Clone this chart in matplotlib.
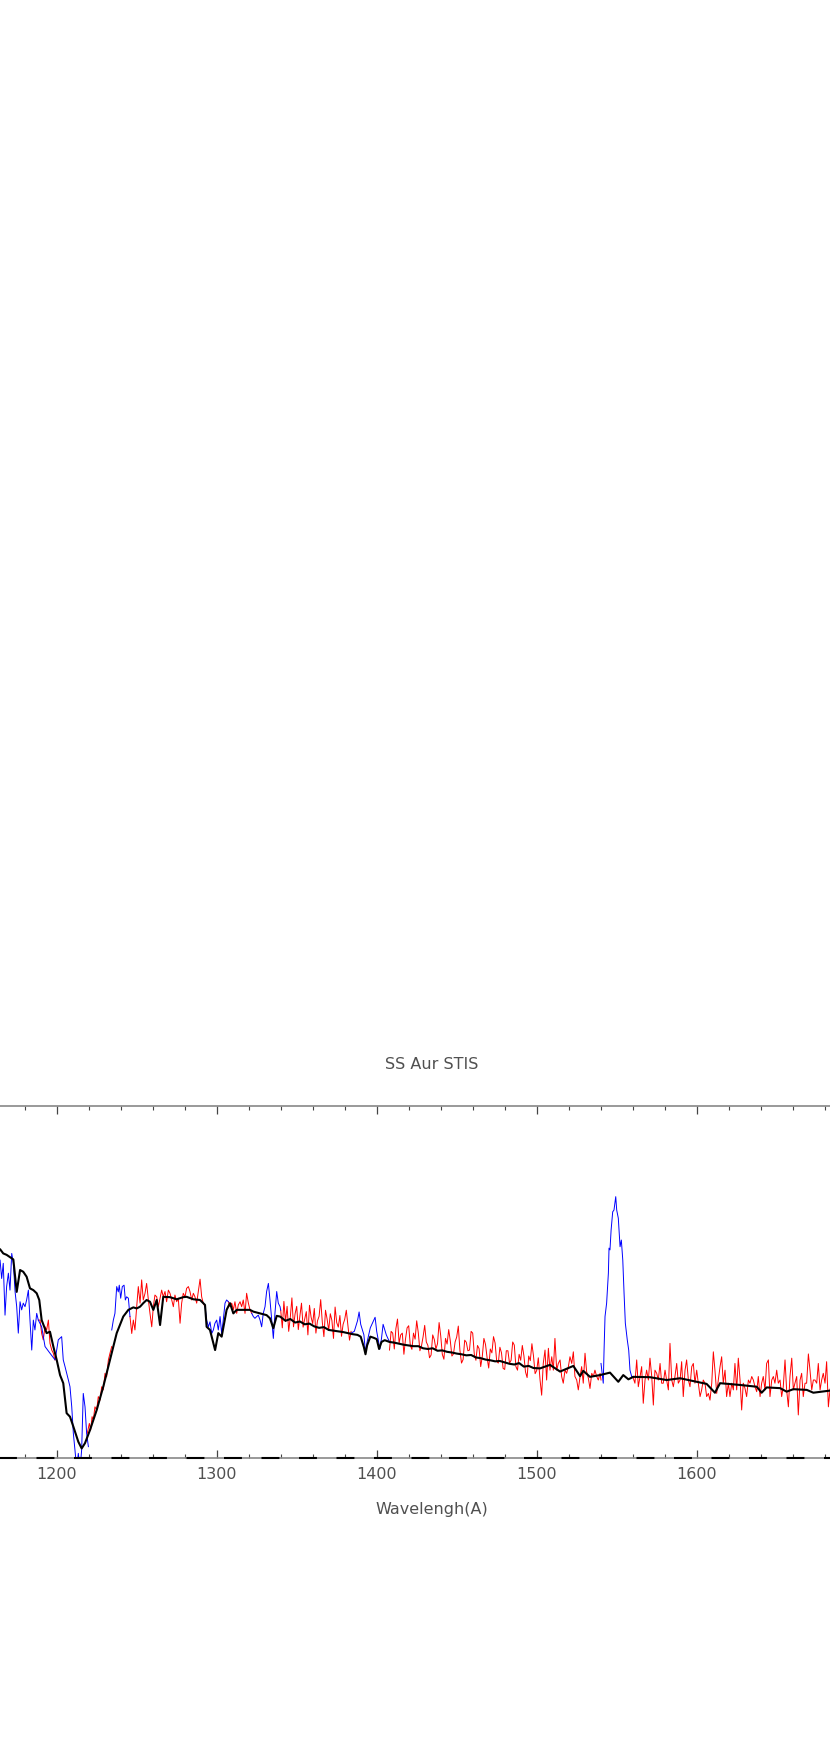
import numpy as np
import matplotlib
matplotlib.use("Agg")
import matplotlib.pyplot as plt

# ---------------- data (flux in arbitrary units, wavelength in Angstrom) ----------------
model_wave = [1150, 1157, 1164.6, 1166.6, 1168.7, 1172.9, 1175.0, 1177.1, 1179.1, 1181.2, 1183.3,
              1185.4, 1187.5, 1189.1, 1190.6, 1193.7, 1195.8, 1197.9, 1200.0, 1202.1, 1204.1,
              1206.2, 1208.3, 1210.4, 1213.5, 1215.6, 1217.7, 1220.8, 1225.0, 1229.1, 1233.3,
              1237.5, 1241.6, 1244.8, 1247.9, 1250.0, 1252.1, 1254.1, 1256.2, 1258.3, 1260.4,
              1262.5, 1264.6, 1266.6, 1270.8, 1275.0, 1279.1, 1281.2, 1285.4, 1289.6, 1292.7,
              1293.7, 1295.8, 1299.0, 1301.0, 1303.1, 1306.2, 1308.3, 1310.4, 1312.5, 1316.6,
              1320.8, 1322.9, 1327.1, 1331.2, 1333.3, 1335.4, 1337.5, 1339.6, 1343, 1346, 1349,
              1352, 1355, 1358, 1361, 1364, 1367, 1370, 1373, 1376, 1379, 1382, 1385, 1388, 1390,
              1392, 1393, 1394, 1396, 1398, 1400, 1401.5, 1403, 1405, 1408, 1411, 1414, 1417,
              1420, 1423, 1426, 1429, 1432, 1435, 1438, 1441, 1444, 1447, 1450, 1453, 1456, 1459,
              1462, 1465, 1468, 1471, 1474, 1477, 1480, 1483, 1486, 1489, 1492, 1495, 1498,
              1502.1, 1508.3, 1514.6, 1522.9, 1527.1, 1529.1, 1533.3, 1539.6, 1545.8, 1551.0,
              1554.1, 1557.3, 1560.4, 1570.8, 1581.2, 1589.6, 1600.0, 1606.2, 1611.4, 1614.6,
              1627.1, 1637.5, 1640.6, 1643.7, 1652.1, 1656.2, 1660.4, 1668.8, 1672.9, 1683.3,
              1692, 1700, 1710, 1720]
model_flux = [6.00, 6.02, 5.93, 5.81, 5.77, 5.64, 4.72, 5.34, 5.29, 5.15, 4.82,
              4.77, 4.68, 4.49, 3.92, 3.55, 3.59, 3.17, 2.79, 2.36, 2.13,
              1.28, 1.18, 0.90, 0.47, 0.28, 0.43, 0.80, 1.37, 2.03, 2.79,
              3.55, 4.02, 4.21, 4.28, 4.25, 4.30, 4.40, 4.49, 4.44, 4.21,
              4.49, 3.78, 4.58, 4.57, 4.51, 4.57, 4.58, 4.51, 4.49, 4.35,
              3.73, 3.64, 3.07, 3.55, 3.45, 4.21, 4.40, 4.11, 4.21, 4.21,
              4.21, 4.16, 4.11, 4.06, 3.97, 3.69, 4.04, 4.02, 3.90, 3.95, 3.85,
              3.88, 3.80, 3.82, 3.74, 3.70, 3.72, 3.64, 3.62, 3.60, 3.58, 3.55, 3.52, 3.50, 3.45,
              3.15, 2.95, 3.20, 3.45, 3.42, 3.38, 3.10, 3.30, 3.35, 3.30, 3.28, 3.25, 3.22,
              3.20, 3.18, 3.18, 3.12, 3.10, 3.12, 3.05, 3.06, 3.02, 3.00, 2.97, 2.95, 2.92, 2.93,
              2.86, 2.84, 2.80, 2.78, 2.75, 2.76, 2.72, 2.68, 2.66, 2.70, 2.60, 2.62, 2.56,
              2.55, 2.65, 2.46, 2.62, 2.33, 2.48, 2.31, 2.36, 2.43, 2.17,
              2.36, 2.24, 2.31, 2.30, 2.22, 2.27, 2.17, 2.11, 1.86, 2.13,
              2.08, 2.03, 1.86, 2.01, 1.99, 1.89, 1.96, 1.94, 1.86, 1.92,
              1.88, 1.85, 1.83, 1.80]

# blue (first observation) segments
blue1_wave = [1152, 1155, 1158, 1161, 1164.6, 1165.6, 1166.6, 1167.7, 1168.7, 1169.8, 1170.8,
              1171.9, 1172.9, 1174.0, 1175.0, 1176.0, 1177.1, 1178.1, 1179.1, 1180.2, 1181.2,
              1182.3, 1183.3, 1184.4, 1185.4, 1186.4, 1187.5, 1188.5, 1190.6, 1192.7, 1195.8,
              1199.0, 1201.0, 1203.1, 1204.1, 1205.2, 1207.3, 1208.3, 1209.4, 1210.4, 1211.4,
              1212.5, 1213.5, 1214.6, 1215.6, 1216.6, 1217.7, 1218.7, 1219.8]
blue1_flux = [5.6, 6.0, 5.3, 5.8, 5.62, 5.10, 5.53, 4.06, 4.87, 5.25, 4.77,
              5.81, 5.53, 4.72, 4.30, 3.55, 4.44, 4.21, 4.40, 4.30, 4.49,
              4.77, 3.92, 3.07, 3.92, 3.64, 4.11, 3.92, 3.73, 3.17, 2.98,
              2.79, 3.36, 3.45, 2.79, 2.60, 2.22, 2.03, 1.46, 0.71, 0.24,
              -0.3, 0.14, -0.3, 0.24, 1.84, 1.46, 0.71, 0.33]
blue2_wave = [1234.4, 1235.4, 1236.4, 1237.5, 1238.5, 1239.1, 1240.0, 1241.0, 1242.1, 1242.9,
              1243.7, 1244.8, 1245.8]
blue2_flux = [3.64, 3.92, 4.11, 4.87, 4.72, 4.91, 4.54, 4.87, 4.91, 4.49, 4.58, 4.54, 4.02]
blue3_wave = [1292.7, 1293.7, 1294.8, 1295.8, 1296.9, 1297.9, 1298.9, 1300.0, 1301.0, 1302.1,
              1303.1, 1304.1, 1305.2, 1306.2, 1307.3]
blue3_flux = [4.30, 3.92, 3.73, 3.87, 3.54, 3.64, 3.83, 3.92, 3.64, 4.02, 3.54, 3.92, 4.40,
              4.49, 4.44]
blue4_wave = [1321.9, 1322.9, 1323.9, 1325.0, 1326.0, 1327.1, 1328.1, 1329.1, 1330.2, 1331.2,
              1332.3, 1333.3, 1334.4, 1335.4, 1336.4, 1337.5, 1338.5, 1339.6, 1340.0]
blue4_flux = [4.11, 4.02, 3.97, 4.02, 4.06, 3.92, 3.73, 4.11, 4.30, 4.73, 4.96, 4.49, 3.92,
              3.40, 4.11, 4.73, 4.40, 4.30, 4.20]
blue5_wave = [1384, 1386, 1388, 1389, 1390, 1392, 1393, 1394, 1396, 1398, 1399, 1400, 1402,
              1403, 1404, 1406, 1408]
blue5_flux = [3.55, 3.60, 3.90, 4.15, 3.80, 3.50, 3.00, 3.30, 3.70, 3.90, 4.00, 3.60, 3.10,
              3.40, 3.80, 3.50, 3.30]
blue6_wave = [1540.2, 1541.6, 1542.1, 1542.7, 1543.7, 1544.8, 1545.2, 1545.8, 1546.5, 1547.5,
              1548.3, 1549.4, 1550.0, 1551.0, 1552.1, 1552.9, 1553.8, 1554.6, 1555.4, 1556.6,
              1557.5, 1558.3, 1559.4, 1560.0]
blue6_flux = [2.69, 2.13, 3.07, 4.02, 4.40, 5.25, 5.96, 5.91, 6.47, 6.99,
              7.04, 7.42, 7.04, 6.81, 6.00, 6.19, 5.62, 4.68, 3.83, 3.36,
              3.07, 2.50, 2.31, 2.32]

# red (second observation) segments
red1_wave = [1188.5, 1189.6, 1190.6, 1191.6, 1192.7, 1193.7, 1194.8, 1195.8, 1196.9, 1197.9, 1198.9]
red1_flux = [3.92, 3.92, 3.54, 3.36, 3.73, 3.64, 3.92, 3.26, 3.07, 2.98, 2.79]
red2_wave = [1219.1, 1220.4, 1221.2, 1222.1, 1222.9, 1223.9, 1225.0, 1226.0, 1227.1, 1228.1,
             1229.1, 1230.2, 1231.2, 1232.3, 1233.3, 1234.4]
red2_flux = [0.71, 0.99, 0.80, 1.18, 1.09, 1.46, 1.37, 1.75, 1.65, 2.03,
             1.94, 2.41, 2.31, 2.79, 2.98, 3.17]
red3_wave = [1245.8, 1246.9, 1247.9, 1248.9, 1250.0, 1251.0, 1252.1, 1253.1, 1254.1, 1255.2,
             1256.2, 1257.3, 1258.3, 1259.4, 1260.4, 1261.4, 1262.5, 1263.5, 1264.6, 1265.6,
             1266.6, 1267.7, 1268.7, 1269.8, 1270.8, 1271.9, 1272.9, 1273.9, 1275.0, 1276.0,
             1277.1, 1278.1, 1279.1, 1280.2, 1281.2, 1282.3, 1283.3, 1284.4, 1285.4, 1286.4,
             1287.5, 1288.5, 1289.6, 1290.6, 1291.6, 1292.7]
red3_flux = [4.02, 3.54, 3.92, 3.64, 4.30, 4.87, 4.40, 5.06, 4.49, 4.68,
             4.96, 4.49, 4.11, 3.73, 4.30, 4.63, 4.58, 4.30, 4.54, 4.77,
             4.58, 4.73, 4.44, 4.77, 4.68, 4.49, 4.30, 4.63, 4.44, 4.54,
             3.83, 4.40, 4.68, 4.58, 4.82, 4.87, 4.73, 4.49, 4.68, 4.58,
             4.40, 4.73, 5.08, 4.58, 4.40, 4.30]
red4_wave = [1307.3, 1308.3, 1309.4, 1310.4, 1311.4, 1312.5, 1313.5, 1314.6, 1315.6, 1316.6,
             1317.7, 1318.7, 1319.8, 1320.8, 1321.9]
red4_flux = [4.44, 4.30, 4.40, 4.21, 4.44, 4.11, 4.35, 4.44, 4.30, 4.49,
             4.11, 4.68, 4.40, 4.21, 4.11]
red5_wave = [1340, 1341, 1342, 1343, 1344, 1345, 1346, 1347, 1348, 1349, 1350, 1351, 1352,
             1353, 1354, 1355, 1356, 1357, 1358, 1359, 1360, 1361, 1362, 1363, 1364, 1365,
             1366, 1367, 1368, 1369, 1370, 1371, 1372, 1373, 1374, 1375, 1376, 1377, 1378,
             1379, 1380, 1381, 1382, 1383, 1384]
red5_flux = [4.20, 3.70, 4.45, 3.88, 4.31, 3.60, 4.00, 4.55, 3.73, 4.10, 4.31, 3.65, 4.04,
             4.40, 3.72, 3.95, 4.16, 3.50, 4.34, 4.00, 3.82, 4.25, 3.55, 3.90, 4.03, 4.50,
             3.86, 3.45, 4.20, 3.95, 3.63, 4.10, 3.91, 3.40, 4.29, 3.85, 3.72, 4.05, 3.46,
             3.80, 3.94, 4.20, 3.77, 3.35, 3.60]
red6_wave = [1408, 1409, 1410, 1411, 1412, 1413, 1414, 1415, 1416, 1417, 1418, 1419, 1420,
             1421, 1422, 1423, 1424, 1425, 1426, 1427, 1428, 1429, 1430, 1431, 1432, 1433,
             1434, 1435, 1436, 1437, 1438, 1439, 1440, 1441, 1442, 1443, 1444, 1445, 1446,
             1447, 1448, 1449, 1450, 1451, 1452, 1453, 1454, 1455, 1456, 1457, 1458, 1459,
             1460, 1461, 1462, 1463, 1464, 1465, 1466, 1467, 1468, 1469, 1470, 1471, 1472,
             1473, 1474, 1475, 1476, 1477, 1478, 1479, 1480, 1481, 1482, 1483, 1484, 1485,
             1486, 1487, 1488, 1489, 1490, 1491, 1492, 1493, 1494, 1495, 1496, 1497, 1498,
             1499, 1500, 1501, 1502.1, 1503.1, 1504.1, 1505.2,
             1506.2, 1507.3, 1508.3, 1509.4, 1510.4, 1511.4, 1512.5, 1513.5, 1514.6, 1515.6,
             1516.6, 1517.7, 1518.7, 1519.8, 1520.8, 1521.9, 1522.9, 1523.9, 1525.0, 1526.0,
             1527.1, 1528.1, 1529.1, 1530.2, 1531.2, 1532.3, 1533.3, 1534.4, 1535.4, 1536.4,
             1537.5, 1538.5, 1539.6, 1540.2]
red6_flux = [3.07, 3.60, 3.55, 3.10, 3.68, 3.95, 3.27, 3.50, 3.55, 2.95, 3.38, 3.70, 3.76,
             3.20, 3.09, 3.55, 3.38, 3.90, 3.56, 3.05, 3.19, 3.45, 3.77, 3.30, 3.20, 2.85,
             2.93, 3.50, 3.37, 3.10, 3.25, 3.85, 3.48, 2.95, 2.81, 3.40, 3.24, 3.65, 3.33,
             2.90, 2.96, 3.30, 3.44, 3.75, 3.07, 2.70, 2.80, 3.35, 3.29, 3.05, 3.07, 3.60,
             3.55, 2.95, 2.78, 3.20, 3.11, 2.60, 2.89, 3.40, 3.23, 2.85, 2.56, 3.10, 2.99,
             3.45, 3.27, 2.75, 2.70, 3.15, 2.99, 2.55, 2.52, 3.05, 3.05, 2.70, 2.78, 3.30,
             3.21, 2.60, 2.50, 2.95, 2.78, 3.20, 2.91, 2.45, 2.29, 2.90, 2.77, 3.25, 2.90,
             2.40, 2.49, 2.85, 2.22, 1.79, 2.69, 3.07,
             2.22, 3.12, 2.50, 2.88, 2.50, 3.40, 2.50, 2.69, 2.79, 2.32,
             2.13, 2.50, 2.41, 2.60, 2.88, 2.69, 3.02, 2.32, 2.22, 1.94,
             2.32, 2.60, 2.13, 2.98, 2.46, 2.27, 1.98, 2.41, 2.32, 2.50,
             2.32, 2.22, 2.41, 2.22]
red7_wave = [1560.0, 1561.4, 1562.5, 1563.5, 1564.6, 1565.6, 1566.6, 1567.7, 1568.7, 1569.8,
             1570.8, 1571.9, 1572.9, 1573.9, 1575.0, 1576.0, 1577.1, 1578.1, 1579.1, 1580.2,
             1581.2, 1582.3, 1583.3, 1584.4, 1585.4, 1586.4, 1587.5, 1588.5, 1589.6, 1590.6,
             1591.6, 1592.7, 1593.7, 1594.8, 1595.8, 1596.9, 1597.9, 1598.9, 1600.0, 1601.0,
             1602.1, 1603.1, 1604.1, 1605.2, 1606.2, 1607.3, 1608.3, 1609.4, 1610.4, 1611.4,
             1612.5, 1613.5, 1614.6, 1615.6, 1616.6, 1617.7, 1618.7, 1619.8, 1620.8, 1621.9,
             1622.9, 1623.9, 1625.0, 1626.0, 1627.1, 1628.1, 1629.1, 1630.2, 1631.2, 1632.3,
             1633.3, 1634.4, 1635.4, 1636.4, 1637.5, 1638.5, 1639.6, 1640.6, 1641.6, 1642.7,
             1643.7, 1644.8, 1645.8, 1646.9, 1647.9, 1648.9, 1650.0, 1651.0, 1652.1, 1653.1,
             1654.1, 1655.2, 1656.2, 1657.3, 1658.3, 1659.4, 1660.4, 1661.4, 1662.5, 1663.5,
             1664.6, 1665.6, 1666.6, 1667.7, 1668.7, 1669.8, 1670.8, 1671.9, 1672.9, 1673.9,
             1675.0, 1676.0, 1677.1, 1678.1, 1679.1, 1680.2, 1681.2, 1682.3, 1683.3, 1685.0,
             1688.0, 1691.0, 1694.0, 1697.0, 1700.0]
red7_flux = [2.32, 2.13, 2.79, 2.03, 2.32, 2.60, 1.56, 2.22, 2.50, 2.22,
             2.84, 2.32, 1.51, 2.50, 2.41, 2.22, 2.69, 2.13, 2.13, 2.50,
             2.22, 1.94, 3.26, 2.22, 2.03, 2.32, 2.69, 2.13, 2.22, 2.74,
             1.75, 2.50, 2.79, 2.22, 2.03, 2.60, 2.69, 2.13, 2.50, 2.13,
             1.75, 1.94, 2.22, 2.13, 1.75, 1.84, 1.65, 2.13, 3.02, 2.50,
             1.84, 2.22, 2.60, 2.88, 2.13, 2.50, 1.75, 2.13, 1.75, 2.13,
             1.94, 2.69, 1.94, 2.84, 2.22, 1.37, 2.13, 1.98, 1.75, 2.22,
             2.13, 2.32, 2.22, 2.03, 1.89, 2.32, 1.75, 2.13, 2.32, 1.94,
             2.69, 2.79, 1.75, 2.22, 2.32, 2.13, 2.50, 2.13, 2.22, 1.75,
             2.03, 2.79, 1.94, 1.46, 2.32, 2.84, 1.94, 2.13, 2.32, 1.23,
             2.22, 2.41, 1.75, 2.13, 2.13, 2.96, 2.50, 1.94, 2.22, 2.22,
             2.13, 2.69, 1.94, 2.22, 2.41, 2.13, 2.74, 1.46, 1.94, 2.30,
             1.80, 2.40, 1.90, 2.20, 1.70]

title_text = "SS Aur STIS"
xlabel_text = "Wavelengh(A)"
x_range = (1150, 1720)
y_range = (0, 10)
major_ticks = [1200, 1300, 1400, 1500, 1600]

# ---------------- figure ----------------
W, H = 830, 1745
fig = plt.figure(figsize=(W / 100, H / 100), dpi=100)
fig.patch.set_facecolor("white")

ax_left_px, ax_right_px = -23.3, 888.7
ax_top_px, ax_bot_px = 1105.7, 1458.3
ax = fig.add_axes([ax_left_px / W, 1 - ax_bot_px / H,
                   (ax_right_px - ax_left_px) / W, (ax_bot_px - ax_top_px) / H])
ax.set_facecolor("white")

red_segments = [(red1_wave, red1_flux), (red2_wave, red2_flux), (red3_wave, red3_flux),
                (red4_wave, red4_flux), (red5_wave, red5_flux), (red6_wave, red6_flux),
                (red7_wave, red7_flux)]
blue_segments = [(blue1_wave, blue1_flux), (blue2_wave, blue2_flux), (blue3_wave, blue3_flux),
                 (blue4_wave, blue4_flux), (blue5_wave, blue5_flux), (blue6_wave, blue6_flux)]

for w, f in red_segments:
    ax.plot(w, f, color="#ff0000", lw=0.7, zorder=2)
for w, f in blue_segments:
    ax.plot(w, f, color="#0000ff", lw=0.7, zorder=3)
ax.plot(model_wave, model_flux, color="black", lw=1.5, zorder=4)

# dashed zero line along the bottom axis
ax.axhline(0, color="black", lw=1.5, linestyle=(0, (8.6, 9.4)), zorder=5, clip_on=False)

ax.set_xlim(*x_range)
ax.set_ylim(*y_range)

for side in ["top", "bottom"]:
    ax.spines[side].set_color("#888888")
    ax.spines[side].set_linewidth(1.2)
for side in ["left", "right"]:
    ax.spines[side].set_visible(False)

ax.set_xticks(major_ticks)
ax.set_xticks(np.arange(1160, 1721, 20), minor=True)
ax.set_yticks([])
ax.tick_params(axis="x", which="major", direction="in", length=6, width=0.9,
               color="#444444", top=True, bottom=True, labelsize=11.5,
               labelcolor="#505050", pad=6)
ax.tick_params(axis="x", which="minor", direction="in", length=3, width=0.8,
               color="#444444", top=True, bottom=True)
for lab in ax.get_xticklabels():
    lab.set_fontfamily(["DejaVu Sans"])

fig.text(432 / W, 1 - 1064.7 / H, title_text, ha="center", va="center",
         fontsize=11.5, color="#505050", family=["DejaVu Sans"])
fig.text(432 / W, 1 - 1509.7 / H, xlabel_text, ha="center", va="center",
         fontsize=11.5, color="#505050", family=["DejaVu Sans"])

fig.savefig("out.png", dpi=100, facecolor="white")
